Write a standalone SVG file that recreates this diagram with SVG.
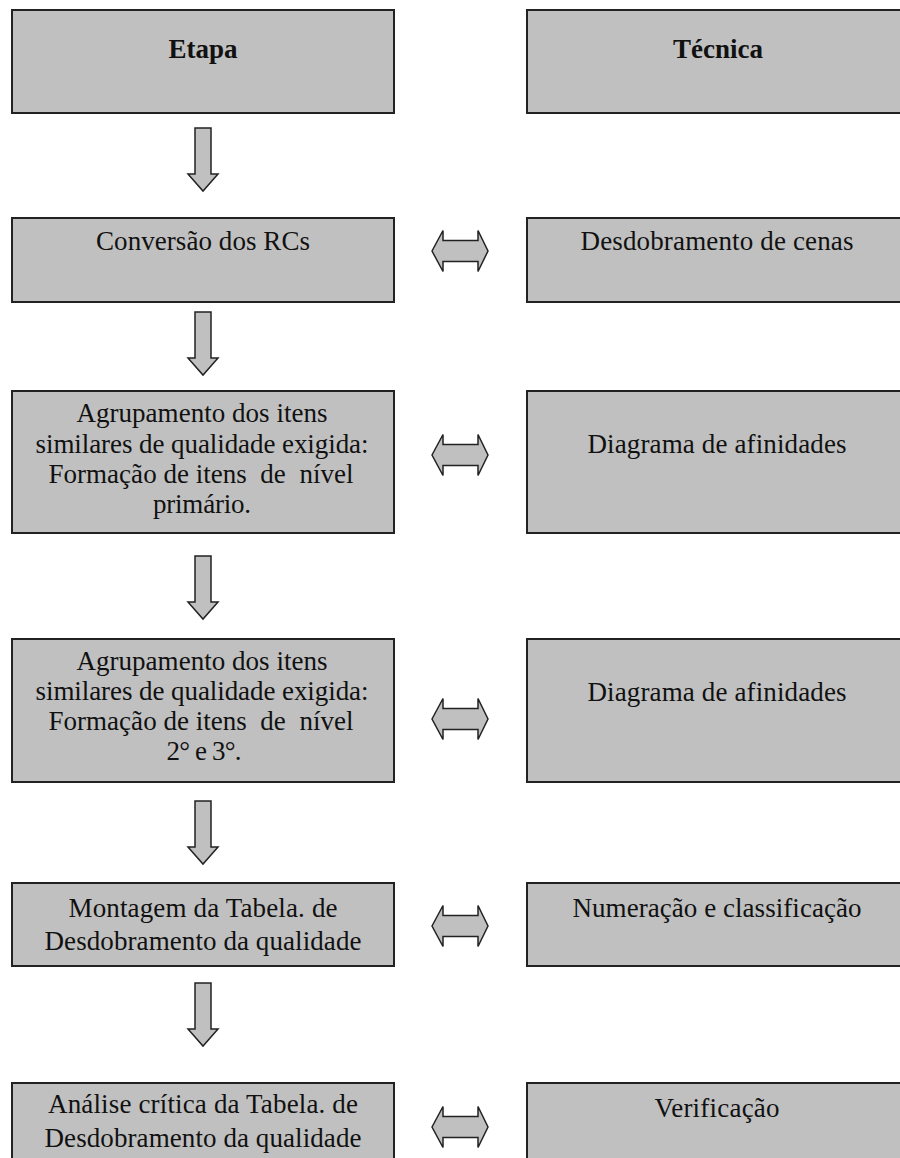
<svg xmlns="http://www.w3.org/2000/svg" width="900" height="1158" viewBox="0 0 900 1158" font-family="'Liberation Serif', 'Times New Roman', serif">
  <style>
    .box { fill: #c0c0c0; stroke: #222; stroke-width: 2; }
    .arrow { fill: #c0c0c0; stroke: #222; stroke-width: 1.5; stroke-linejoin: miter; }
    text { font-family: "Liberation Serif", "Times New Roman", serif; font-size: 27px; font-weight: normal; fill: #111; text-anchor: middle; white-space: pre; }
    text.head { font-weight: bold; }
  </style>
  <defs>
    <!-- down arrow, origin at top centre of shaft -->
    <path id="down" d="M -8 0 L 8 0 L 8 46 L 15 46 L 0 63 L -15 46 L -8 46 Z"/>
    <!-- two-way horizontal arrow, origin at centre -->
    <path id="both" d="M -28 0 L -17 -20.5 L -17 -10.5 L 18 -10.5 L 18 -20.5 L 28 0 L 18 20.5 L 18 10.5 L -17 10.5 L -17 20.5 Z"/>
  </defs>
  <rect width="900" height="1158" fill="#fff"/>

  <!-- column headers -->
  <g id="etapa">
    <rect class="box" x="12" y="10" width="382" height="103"/>
    <text class="head" x="203" y="58">Etapa</text>
  </g>
  <g id="tecnica">
    <rect class="box" x="527" y="10" width="390" height="103"/>
    <text class="head" x="718" y="58">Técnica</text>
  </g>

  <!-- step 1 -->
  <g id="etapa-1">
    <rect class="box" x="12" y="218" width="382" height="84"/>
    <text x="203" y="250" textLength="214">Conversão dos RCs</text>
  </g>
  <g id="tecnica-1">
    <rect class="box" x="527" y="218" width="390" height="84"/>
    <text x="717" y="250" textLength="273">Desdobramento de cenas</text>
  </g>

  <!-- step 2 -->
  <g id="etapa-2">
    <rect class="box" x="12" y="391" width="382" height="142"/>
    <text x="202" y="422" textLength="251">Agrupamento dos itens</text>
    <text x="202" y="453" textLength="333">similares de qualidade exigida:</text>
    <text x="201" y="483" textLength="305">Formação de itens  de  nível</text>
    <text x="202" y="513" textLength="98">primário.</text>
  </g>
  <g id="tecnica-2">
    <rect class="box" x="527" y="391" width="390" height="142"/>
    <text x="717" y="453" textLength="259">Diagrama de afinidades</text>
  </g>

  <!-- step 3 -->
  <g id="etapa-3">
    <rect class="box" x="12" y="639" width="382" height="143"/>
    <text x="202" y="670" textLength="251">Agrupamento dos itens</text>
    <text x="202" y="700" textLength="333">similares de qualidade exigida:</text>
    <text x="201" y="730" textLength="305">Formação de itens  de  nível</text>
    <text x="204" y="760" textLength="75">2° e 3°.</text>
  </g>
  <g id="tecnica-3">
    <rect class="box" x="527" y="639" width="390" height="143"/>
    <text x="717" y="701" textLength="259">Diagrama de afinidades</text>
  </g>

  <!-- step 4 -->
  <g id="etapa-4">
    <rect class="box" x="12" y="883" width="382" height="83"/>
    <text x="203" y="917" textLength="269">Montagem da Tabela. de</text>
    <text x="203" y="950" textLength="317">Desdobramento da qualidade</text>
  </g>
  <g id="tecnica-4">
    <rect class="box" x="527" y="883" width="390" height="83"/>
    <text x="717" y="917" textLength="289">Numeração e classificação</text>
  </g>

  <!-- step 5 -->
  <g id="etapa-5">
    <rect class="box" x="12" y="1083" width="382" height="90"/>
    <text x="203" y="1113" textLength="310">Análise crítica da Tabela. de</text>
    <text x="203" y="1147" textLength="317">Desdobramento da qualidade</text>
  </g>
  <g id="tecnica-5">
    <rect class="box" x="527" y="1083" width="390" height="90"/>
    <text x="717" y="1117" textLength="125">Verificação</text>
  </g>

  <!-- connectors -->
  <g id="connectors">
    <use href="#down" class="arrow" x="203" y="128"/>
    <use href="#down" class="arrow" x="203" y="312"/>
    <use href="#down" class="arrow" x="203" y="556"/>
    <use href="#down" class="arrow" x="203" y="801"/>
    <use href="#down" class="arrow" x="203" y="983"/>
    <use href="#both" class="arrow" x="460" y="251"/>
    <use href="#both" class="arrow" x="460" y="455"/>
    <use href="#both" class="arrow" x="460" y="719"/>
    <use href="#both" class="arrow" x="460" y="926"/>
    <use href="#both" class="arrow" x="460" y="1127"/>
  </g>
</svg>
